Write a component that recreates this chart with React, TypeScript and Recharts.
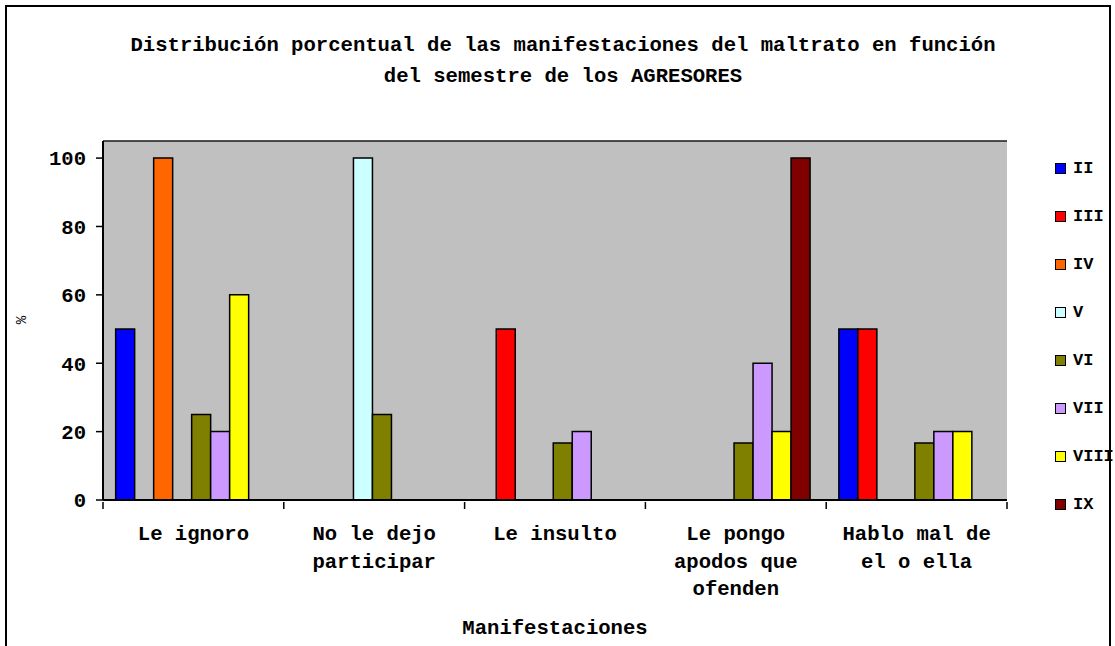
import React from "react";
import {
  BarChart,
  Bar,
  XAxis,
  YAxis,
  CartesianGrid,
  Legend,
} from "recharts";

const FONT = "'Liberation Mono', 'Courier New', monospace";
const FS = 20.6;

// categorías (eje X)
const categories = [
  "Le ignoro",
  "No le dejo participar",
  "Le insulto",
  "Le pongo apodos que ofenden",
  "Hablo mal de el o ella",
];
const categoryLines = [
  ["Le ignoro"],
  ["No le dejo", "participar"],
  ["Le insulto"],
  ["Le pongo", "apodos que", "ofenden"],
  ["Hablo mal de", "el o ella"],
];

// semestres
const semesters = ["II", "III", "IV", "V", "VI", "VII", "VIII", "IX"];
const colors = ["#0000FF", "#FF0000", "#FF6600", "#CCFFFF", "#808000", "#CC99FF", "#FFFF00", "#800000"];

// % por semestre, en el orden de las categorías (null = sin barra)
const II = [50, null, null, null, 50];
const III = [null, null, 50, null, 50];
const IV = [100, null, null, null, null];
const V = [null, 100, null, null, null];
const VI = [25, 25, 16.7, 16.7, 16.7];
const VII = [20, null, 20, 40, 20];
const VIII = [60, null, null, 20, 20];
const IX = [null, null, null, 100, null];

const yTicks = [0, 20, 40, 60, 80, 100];

const seriesValues = [II, III, IV, V, VI, VII, VIII, IX];

const data = categories.map((name, i) => {
  const row: Record<string, string | number | null> = { name };
  semesters.forEach((s, j) => {
    row[s] = seriesValues[j][i];
  });
  return row;
});

// etiqueta de varias líneas + marcas de división entre categorías
function CategoryTick(props: any) {
  const { x, y, payload, index, visibleTicksCount } = props;
  const idx = categories.indexOf(payload.value);
  const lines = categoryLines[idx] ?? [payload.value];
  const half = payload.offset ?? 0;
  return (
    <g>
      <line x1={x - half} x2={x - half} y1={y} y2={y + 7} stroke="#000" strokeWidth={1.5} />
      {index === visibleTicksCount - 1 && (
        <line x1={x + half} x2={x + half} y1={y} y2={y + 7} stroke="#000" strokeWidth={1.5} />
      )}
      <text
        x={x}
        y={y}
        textAnchor="middle"
        fontFamily={FONT}
        fontWeight="bold"
        fontSize={FS}
        fill="#000"
      >
        {lines.map((l, i) => (
          <tspan key={i} x={x} y={y + 38 + i * 27.5}>
            {l}
          </tspan>
        ))}
      </text>
    </g>
  );
}

function LegendBox() {
  return (
    <div style={{ fontFamily: FONT, fontWeight: "bold", fontSize: 17 }}>
      {semesters.map((s, i) => (
        <div key={s} style={{ height: 48, display: "flex", alignItems: "center" }}>
          <span
            style={{
              display: "inline-block",
              width: 9,
              height: 9,
              background: colors[i],
              border: "1px solid #000",
              marginRight: 7,
            }}
          />
          <span>{s}</span>
        </div>
      ))}
    </div>
  );
}

export default function App() {
  return (
    <div
      style={{
        position: "absolute",
        left: 0,
        top: 0,
        width: 1115,
        height: 646,
        overflow: "hidden",
        background: "#fff",
      }}
    >
      <div
        style={{
          position: "absolute",
          left: 5,
          top: 5,
          width: 1102,
          height: 700,
          border: "2px solid #000",
        }}
      />
      <div
        style={{
          position: "absolute",
          left: 0,
          top: 30,
          width: 1126,
          textAlign: "center",
          fontFamily: FONT,
          fontWeight: "bold",
          fontSize: FS,
          lineHeight: "31px",
        }}
      >
        Distribución porcentual de las manifestaciones del maltrato en función
        <br />
        del semestre de los AGRESORES
      </div>
      <div
        style={{
          position: "absolute",
          left: 18,
          top: 312,
          fontFamily: FONT,
          fontSize: 14,
          transform: "rotate(-90deg)",
        }}
      >
        %
      </div>
      <div style={{ position: "absolute", left: 0, top: 0 }}>
        <BarChart
          width={1115}
          height={646}
          data={data}
          margin={{ top: 141, right: 48, left: 43, bottom: 0 }}
          barCategoryGap="7%"
          barGap={0}
        >
          <CartesianGrid
            xAxisId="cat"
            vertical={false}
            stroke="#1a1a1a"
            strokeWidth={1.5}
            fill="#C0C0C0"
            fillOpacity={1}
          />
          <XAxis
            xAxisId="cat"
            dataKey="name"
            height={146}
            interval={0}
            tickLine={false}
            tickSize={0}
            tick={<CategoryTick />}
            axisLine={{ stroke: "#000", strokeWidth: 2 }}
            label={{
              value: "Manifestaciones",
              position: "insideBottom",
              offset: 12,
              fill: "#000",
              fontFamily: FONT,
              fontWeight: "bold",
              fontSize: FS,
            }}
          />
          <XAxis
            xAxisId="top"
            orientation="top"
            dataKey="name"
            height={0}
            tick={false}
            tickLine={false}
            axisLine={{ stroke: "#8c8c8c", strokeWidth: 2 }}
          />
          <YAxis
            yAxisId="left"
            width={60}
            domain={[0, 105]}
            ticks={yTicks}
            allowDataOverflow
            tickSize={7}
            tickMargin={10}
            tickLine={{ stroke: "#000", strokeWidth: 1.5 }}
            axisLine={{ stroke: "#000", strokeWidth: 2 }}
            tick={{ fill: "#000", fontFamily: FONT, fontWeight: "bold", fontSize: FS }}
          />
          <YAxis
            yAxisId="right"
            orientation="right"
            width={0}
            domain={[0, 105]}
            tick={false}
            tickLine={false}
            axisLine={{ stroke: "#8c8c8c", strokeWidth: 2 }}
          />
          <Legend
            layout="vertical"
            align="right"
            verticalAlign="top"
            content={<LegendBox />}
            wrapperStyle={{ left: 1055, top: 144, width: 60 }}
          />
          {semesters.map((s, i) => (
            <Bar
              key={s}
              xAxisId="cat"
              yAxisId="left"
              dataKey={s}
              fill={colors[i]}
              stroke="#000"
              strokeWidth={1.5}
              isAnimationActive={false}
            />
          ))}
        </BarChart>
      </div>
    </div>
  );
}
